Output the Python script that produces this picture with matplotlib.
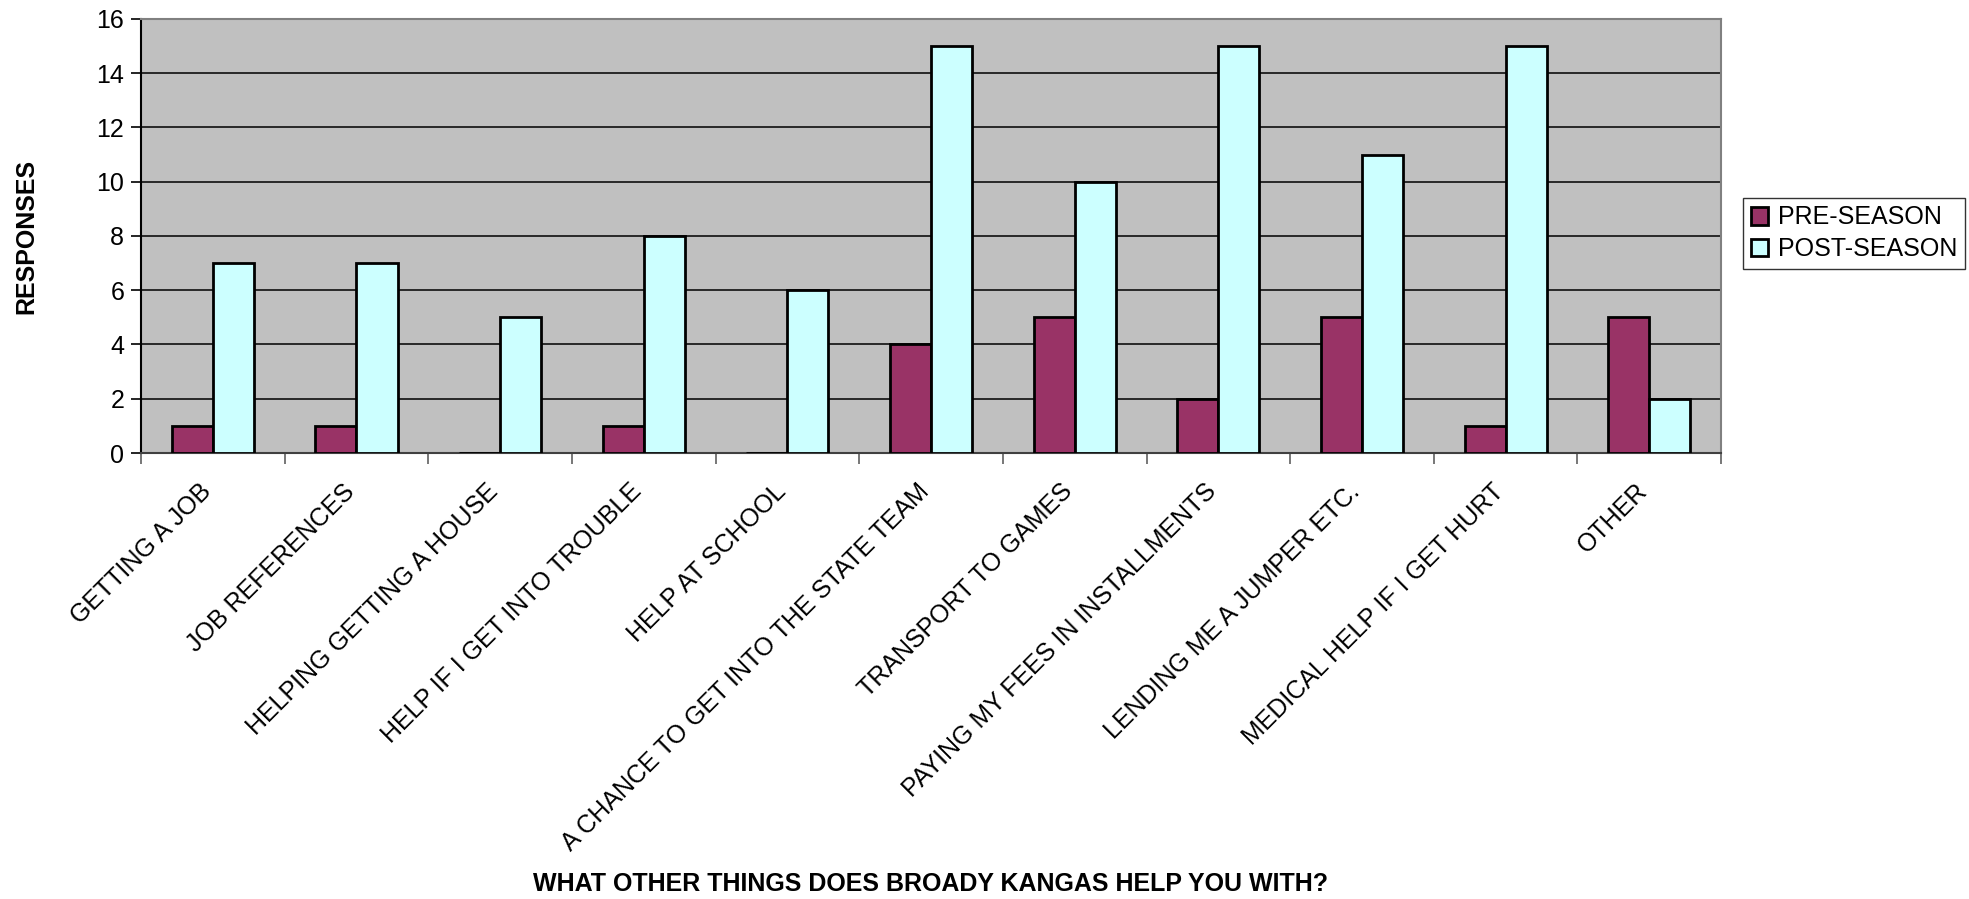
import matplotlib
matplotlib.use("Agg")
import matplotlib.pyplot as plt
import matplotlib.transforms as mtransforms
import numpy as np

categories = ["GETTING A JOB", "JOB REFERENCES", "HELPING GETTING A HOUSE",
              "HELP IF I GET INTO TROUBLE", "HELP AT SCHOOL",
              "A CHANCE TO GET INTO THE STATE TEAM", "TRANSPORT TO GAMES",
              "PAYING MY FEES IN INSTALLMENTS", "LENDING ME A JUMPER ETC.",
              "MEDICAL HELP IF I GET HURT", "OTHER"]
pre_season = [1, 1, 0, 1, 0, 4, 5, 2, 5, 1, 5]
post_season = [7, 7, 5, 8, 6, 15, 10, 15, 11, 15, 2]
series_names = ["PRE-SEASON", "POST-SEASON"]
y_ticks = [0, 2, 4, 6, 8, 10, 12, 14, 16]

plt.rcParams['font.family'] = ['Liberation Sans', 'DejaVu Sans']
FS = 18

fig = plt.figure(figsize=(19.69, 8.99), dpi=100)
ax = fig.add_axes([0.0716, 0.4961, 0.8025, 0.4828])
ax.set_facecolor('#C0C0C0')

x = np.arange(len(categories))
w = 0.286
ax.bar(x - w/2, pre_season, w, color='#993366', edgecolor='black', linewidth=2.0,
       label=series_names[0], zorder=3)
ax.bar(x + w/2, post_season, w, color='#CCFFFF', edgecolor='black', linewidth=2.0,
       label=series_names[1], zorder=3)

ax.set_xlim(-0.5, len(categories) - 0.5)
ax.set_ylim(0, 16)
ax.set_yticks(y_ticks)
ax.yaxis.grid(True, color='black', linewidth=1.1, zorder=1)
ax.set_axisbelow(True)

ax.tick_params(axis='y', direction='out', length=7, width=1.2, labelsize=FS, pad=5, color='black')
ax.set_xticks(x)
ax.set_xticklabels(categories, rotation=45, ha='right', va='center',
                   rotation_mode='anchor', fontsize=FS)
ax.tick_params(axis='x', which='major', length=0, pad=25)
offset = mtransforms.ScaledTranslation(-4/72, 0, fig.dpi_scale_trans)
for lbl in ax.get_xticklabels():
    lbl.set_transform(lbl.get_transform() + offset)
ax.set_xticks(np.arange(-0.5, len(categories)), minor=True)
ax.tick_params(axis='x', which='minor', direction='out', length=8, width=1.2, color='#606060')

ax.spines['left'].set_color('black')
ax.spines['left'].set_linewidth(1.5)
ax.spines['bottom'].set_color('#404040')
ax.spines['bottom'].set_linewidth(1.5)
ax.spines['top'].set_color('#808080')
ax.spines['top'].set_linewidth(1.5)
ax.spines['right'].set_color('#808080')
ax.spines['right'].set_linewidth(1.5)

fig.text(26/1969, 1 - 236/899, "RESPONSES", rotation=90, ha='center', va='center',
         fontsize=FS, fontweight='bold')
fig.text(931/1969, 1 - 884/899, "WHAT OTHER THINGS DOES BROADY KANGAS HELP YOU WITH?",
         ha='center', va='center', fontsize=FS, fontweight='bold')

leg = fig.legend(loc='upper left', bbox_to_anchor=(1743/1969, 1 - 198/899),
                 fontsize=FS, frameon=True, fancybox=False, edgecolor='black',
                 handlelength=0.7, handleheight=0.7, handletextpad=0.4,
                 borderpad=0.3, labelspacing=0.3, borderaxespad=0)
leg.get_frame().set_linewidth(1.0)

fig.savefig("out.png", dpi=100, facecolor='white')
